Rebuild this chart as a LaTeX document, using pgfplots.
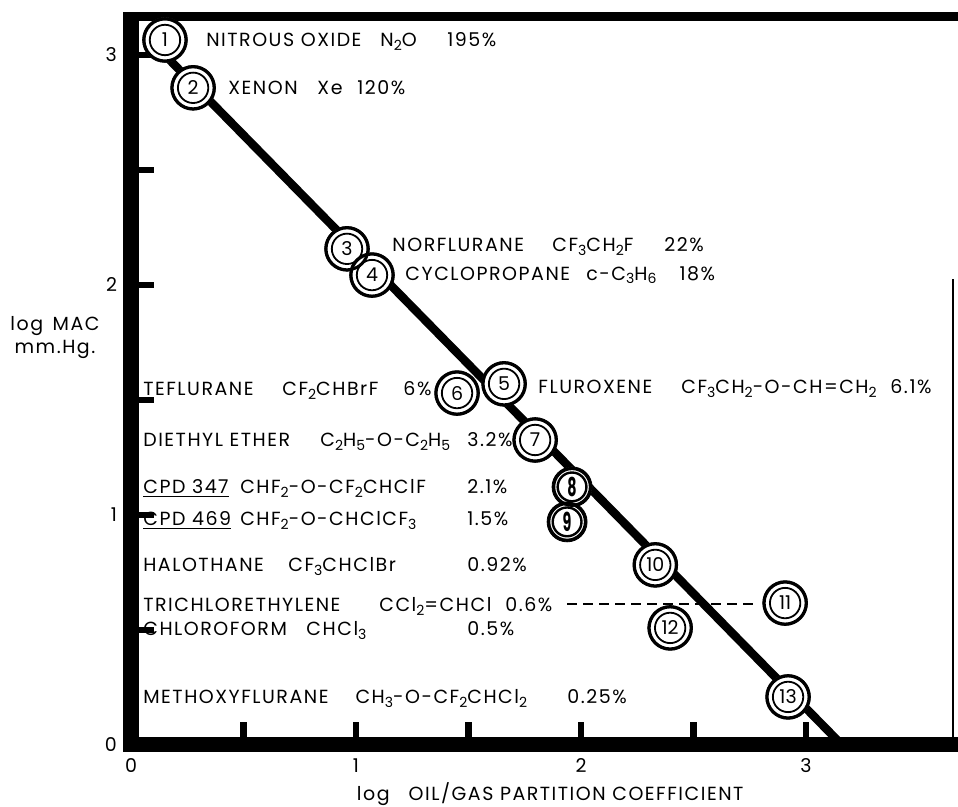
\documentclass[border=0pt]{standalone}
\usepackage{fontspec}
\setmainfont{Poppins}
\newfontfamily\lblfont{Poppins}[LetterSpace=8]
\usepackage{graphicx}
\usepackage{pgfplots}
\pgfplotsset{compat=1.18}
\newcommand{\sub}[1]{\raisebox{-0.35ex}{\fontsize{7}{7}\selectfont #1}}
\newcommand{\lbl}{\lblfont\fontsize{9.5}{11.5}\selectfont}
\newcommand{\ttl}{\lblfont\fontsize{9.5}{11.5}\selectfont}
\newcommand{\numf}{\fontsize{9.5}{11}\selectfont}
\newcommand{\bignum}{\fontsize{13}{13}\selectfont\bfseries}
\begin{document}
\begin{tikzpicture}
\useasboundingbox (-65.5pt,-31pt) rectangle (413.5pt,372.5pt);
\begin{axis}[
  at={(0,0)}, anchor=south west,
  width=411pt, height=364pt, scale only axis,
  xmin=0, xmax=3.653, ymin=0, ymax=3.165,
  axis line style={draw=none},
  xtick={0,0.5,1,1.5,2,2.5,3}, xticklabels={0,,1,,2,,3},
  ytick={0,0.5,1,1.5,2,2.5,3}, yticklabels={0,,1,,2,,3},
  xtick pos=bottom, ytick pos=left,
  tick align=inside,
  major tick length=11.5pt,
  tick style={line width=3.2pt, black},
  /pgf/number format/assume math mode=true,
  ticklabel style={font=\numf},
  xticklabel style={yshift=-3.3pt},
  yticklabel style={xshift=-3.5pt},
  clip=false,
]
% dashed reference line
\addplot[line width=1pt, dash pattern=on 5pt off 3pt] coordinates {(1.938,0.613) (2.782,0.613)};
% regression line
\addplot[line width=4.2pt] coordinates {(0.14,3.01) (3.16,0)};
% circle fills
\addplot[only marks, mark=*, mark size=11.2pt, mark options={fill=white, draw=none}] coordinates {
(0.151,3.065) (0.276,2.857) (0.96,2.157) (1.071,2.043) (1.658,1.570) (1.449,1.530) (1.796,1.326)
(2.33,0.783) (2.907,0.617) (2.396,0.509) (2.92,0.209)};
\addplot[only marks, mark=*, mark size=10pt, mark options={fill=white, draw=none}] coordinates {
(1.960,1.122) (1.938,0.970)};
% outer rings
\addplot[only marks, mark=o, mark size=10.5pt, mark options={draw=black, line width=1.5pt}] coordinates {
(0.151,3.065) (0.276,2.857) (0.96,2.157) (1.071,2.043) (1.658,1.570) (1.449,1.530) (1.796,1.326)
(2.33,0.783) (2.907,0.617) (2.396,0.509) (2.92,0.209)};
\addplot[only marks, mark=o, mark size=9.2pt, mark options={draw=black, line width=1.6pt}] coordinates {
(1.960,1.122) (1.938,0.970)};
% inner rings
\addplot[only marks, mark=o, mark size=7.6pt, mark options={draw=black, line width=0.9pt}] coordinates {
(0.151,3.065) (0.276,2.857) (0.96,2.157) (1.071,2.043) (1.658,1.570) (1.449,1.530) (1.796,1.326)
(2.33,0.783) (2.907,0.617) (2.396,0.509) (2.92,0.209)};
\addplot[only marks, mark=o, mark size=7.2pt, mark options={draw=black, line width=1.2pt}] coordinates {
(1.960,1.122) (1.938,0.970)};
% numbers
\addplot[draw=none, mark=none, nodes near coords, point meta=explicit symbolic,
  every node near coord/.append style={anchor=center, font=\numf, inner sep=0pt}] coordinates {
(0.151,3.065) [1] (0.276,2.857) [2] (0.96,2.157) [3] (1.071,2.043) [4] (1.658,1.570) [5]
(1.449,1.530) [6] (1.796,1.326) [7] (2.33,0.783) [10] (2.907,0.617) [11] (2.396,0.509) [12] (2.92,0.209) [13]};
\addplot[draw=none, mark=none, nodes near coords={\scalebox{0.55}[1]{\pgfplotspointmeta}}, point meta=explicit symbolic,
  every node near coord/.append style={anchor=center, font=\bignum, inner sep=0pt}] coordinates {
(1.960,1.122) [8] (1.938,0.970) [9]};
% labels
\begin{scope}[every node/.style={anchor=base west, inner sep=0pt, font=\lbl}]
\node at (axis cs:0.333,3.037) {NITROUS OXIDE};
\node at (axis cs:1.107,3.037) {N\sub{2}O};
\node at (axis cs:1.404,3.037) {195\%};
\node at (axis cs:0.431,2.828) {XENON};
\node at (axis cs:0.827,2.828) {Xe};
\node at (axis cs:1.004,2.828) {120\%};
\node at (axis cs:1.16,2.146) {NORFLURANE};
\node at (axis cs:1.871,2.146) {CF\sub{3}CH\sub{2}F};
\node at (axis cs:2.369,2.146) {22\%};
\node at (axis cs:1.218,2.020) {CYCLOPROPANE};
\node at (axis cs:2.022,2.020) {c-C\sub{3}H\sub{6}};
\node at (axis cs:2.436,2.020) {18\%};
\node at (axis cs:1.809,1.528) {FLUROXENE};
\node at (axis cs:2.444,1.528) {CF\sub{3}CH\sub{2}-O-CH=CH\sub{2}};
\node at (axis cs:3.373,1.528) {6.1\%};
\node at (axis cs:0.053,1.520) {TEFLURANE};
\node at (axis cs:0.671,1.520) {CF\sub{2}CHBrF};
\node at (axis cs:1.209,1.520) {6\%};
\node at (axis cs:0.053,1.298) {DIETHYL ETHER};
\node at (axis cs:0.840,1.298) {C\sub{2}H\sub{5}-O-C\sub{2}H\sub{5}};
\node at (axis cs:1.493,1.298) {3.2\%};
\node at (axis cs:0.053,1.093) {\underline{CPD 347}};
\node at (axis cs:0.484,1.093) {CHF\sub{2}-O-CF\sub{2}CHClF};
\node at (axis cs:1.493,1.093) {2.1\%};
\node at (axis cs:0.053,0.954) {\underline{CPD 469}};
\node at (axis cs:0.484,0.954) {CHF\sub{2}-O-CHClCF\sub{3}};
\node at (axis cs:1.493,0.954) {1.5\%};
\node at (axis cs:0.053,0.754) {HALOTHANE};
\node at (axis cs:0.698,0.754) {CF\sub{3}CHClBr};
\node at (axis cs:1.493,0.754) {0.92\%};
\node at (axis cs:0.053,0.580) {TRICHLORETHYLENE};
\node at (axis cs:1.102,0.580) {CCl\sub{2}=CHCl};
\node at (axis cs:1.662,0.580) {0.6\%};
\node at (axis cs:0.053,0.476) {CHLOROFORM};
\node at (axis cs:0.778,0.476) {CHCl\sub{3}};
\node at (axis cs:1.493,0.476) {0.5\%};
\node at (axis cs:0.053,0.180) {METHOXYFLURANE};
\node at (axis cs:0.996,0.180) {CH\sub{3}-O-CF\sub{2}CHCl\sub{2}};
\node at (axis cs:1.938,0.180) {0.25\%};
\end{scope}
% axis titles
\node[font=\ttl, anchor=center] at (rel axis cs:0.51,0) [yshift=-24.5pt] {log\quad OIL/GAS PARTITION COEFFICIENT};
\node[font=\ttl, anchor=center, align=center] at (rel axis cs:0,0.56) [xshift=-38pt] {log\enspace MAC\\mm.Hg.};
% frame
\draw[line width=7.5pt] (rel axis cs:-0.0095,0) -- (rel axis cs:1.006,0);
\draw[line width=4.5pt] (rel axis cs:-0.0095,1) -- (rel axis cs:1.006,1);
\draw[line width=8pt] (rel axis cs:0,-0.005) -- (rel axis cs:0,1.006);
\draw[line width=1pt] (rel axis cs:1,0) -- (rel axis cs:1,0.64);
\end{axis}
\end{tikzpicture}
\end{document}
